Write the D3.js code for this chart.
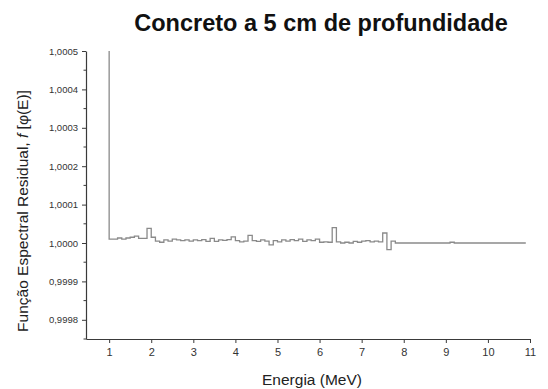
<!DOCTYPE html>
<html>
<head>
<meta charset="utf-8">
<script src="https://cdn.jsdelivr.net/npm/d3@7"></script>
<style>
  html, body { margin: 0; padding: 0; background: #fff; }
  svg { display: block; }
  text { font-family: "Liberation Sans", Arial, sans-serif; }
</style>
</head>
<body>
<script>
// Residual spectral function, concrete at 5 cm depth
// Bin start energies (MeV), 0.1 MeV wide bins from 1.0 to 10.9
const binStart = d3.range(99).map(i => +(1.0 + i * 0.1).toFixed(1));
const binEnd = 10.9;
// Peak at the first energy point
const peakEnergy = 1.0;
const peakValue = 1.0005;
// Residual values per bin, expressed as offset from 1 in units of 1e-5
const residualOffset = [
  1.0, 1.0, 1.3, 1.0, 1.3, 1.5, 1.8, 1.2, 1.2, 3.8,
  1.5, 0.5, 0.2, 0.8, 0.5, 1.0, 0.8, 0.6, 0.8, 0.5,
  0.8, 0.6, 0.9, 0.4, 1.2, 0.4, 0.8, 0.7, 0.9, 1.6,
  0.6, 0.3, 0.5, 2.0, 0.6, 0.4, 0.8, 0.5, -0.5, 0.6,
  0.3, 0.8, 0.5, 0.9, 0.6, 1.0, 0.4, 0.8, 0.6, 1.0,
  0.2, 0.3, 0.2, 4.0, 0.3, 0.0, 0.2, 0.0, 0.4, 0.2,
  0.5, 0.6, 0.3, 0.5, 0.3, 2.6, -1.7, 0.5, 0.0, 0.0,
  0.0, 0.0, 0.0, 0.0, 0.0, 0.0, 0.0, 0.0, 0.0, 0.0,
  0.0, 0.2, 0.0, 0.0, 0.0, 0.0, 0.0, 0.0, 0.0, 0.0,
  0.0, 0.0, 0.0, 0.0, 0.0, 0.0, 0.0, 0.0, 0.0
];
const xTicks = [1, 2, 3, 4, 5, 6, 7, 8, 9, 10, 11];
const yTicks = [0.9998, 0.9999, 1.0000, 1.0001, 1.0002, 1.0003, 1.0004, 1.0005];
const yMinorTicks = [0.99975, 0.99985, 0.99995, 1.00005, 1.00015, 1.00025, 1.00035, 1.00045];

const titleText = "Concreto a 5 cm de profundidade";
const xLabel = "Energia (MeV)";

const W = 548, H = 389;
const svg = d3.select("body").append("svg").attr("width", W).attr("height", H);

const x = d3.scaleLinear().domain([0.45, 11]).range([86, 530]);
const y = d3.scaleLinear().domain([0.99975, 1.0005]).range([339, 51]);

// Series points: peak, then one point per bin start, closing at the last bin end
const values = residualOffset.map(v => 1 + v * 1e-5);
const series = [{ e: peakEnergy, v: peakValue }]
  .concat(binStart.map((e, i) => ({ e, v: values[i] })))
  .concat([{ e: binEnd, v: values[values.length - 1] }]);

const axisColor = "#3a3a3a";
const fmtY = d => d3.format(".4f")(d).replace(".", ",");

// Y axis
const gy = svg.append("g").attr("transform", `translate(${x.range()[0]},0)`)
  .call(d3.axisLeft(y).tickValues(yTicks).tickFormat(fmtY).tickSize(4).tickSizeOuter(0).tickPadding(4));
gy.append("g").selectAll("line").data(yMinorTicks).join("line")
  .attr("x1", -2.5).attr("x2", 0).attr("y1", d => y(d)).attr("y2", d => y(d))
  .attr("stroke", axisColor);

// X axis
const gx = svg.append("g").attr("transform", `translate(0,${y.range()[0]})`)
  .call(d3.axisBottom(x).tickValues(xTicks).tickFormat(d3.format("d")).tickSize(4).tickSizeOuter(0).tickPadding(5));

[gx, gy].forEach(g => {
  g.select(".domain").attr("stroke", axisColor).attr("stroke-width", 1.2);
  g.selectAll(".tick line").attr("stroke", axisColor);
  g.selectAll(".tick text").attr("fill", "#333")
    .style("font-family", "'Liberation Sans', Arial, sans-serif").style("font-size", "9.5px");
});
gx.selectAll(".tick text").style("font-size", "11px");

// Step line
const line = d3.line().x(d => x(d.e)).y(d => y(d.v)).curve(d3.curveStepAfter);
svg.append("path").datum(series)
  .attr("d", line).attr("fill", "none")
  .attr("stroke", "#8a8a8a").attr("stroke-width", 1.3);

// Title
svg.append("text").attr("x", 321).attr("y", 31).attr("text-anchor", "middle")
  .style("font-size", "23.5px").style("font-weight", "bold").attr("fill", "#111")
  .text(titleText);

// X label
svg.append("text").attr("x", 312).attr("y", 385).attr("text-anchor", "middle")
  .style("font-size", "15.5px").attr("fill", "#222").text(xLabel);

// Y label
const yl = svg.append("text").attr("transform", "translate(28,211) rotate(-90)")
  .attr("text-anchor", "middle").style("font-size", "15.5px").attr("fill", "#222");
yl.append("tspan").text("Função Espectral Residual, ");
yl.append("tspan").style("font-style", "italic").text("f");
yl.append("tspan").text(" [φ(E)]");
</script>
</body>
</html>
